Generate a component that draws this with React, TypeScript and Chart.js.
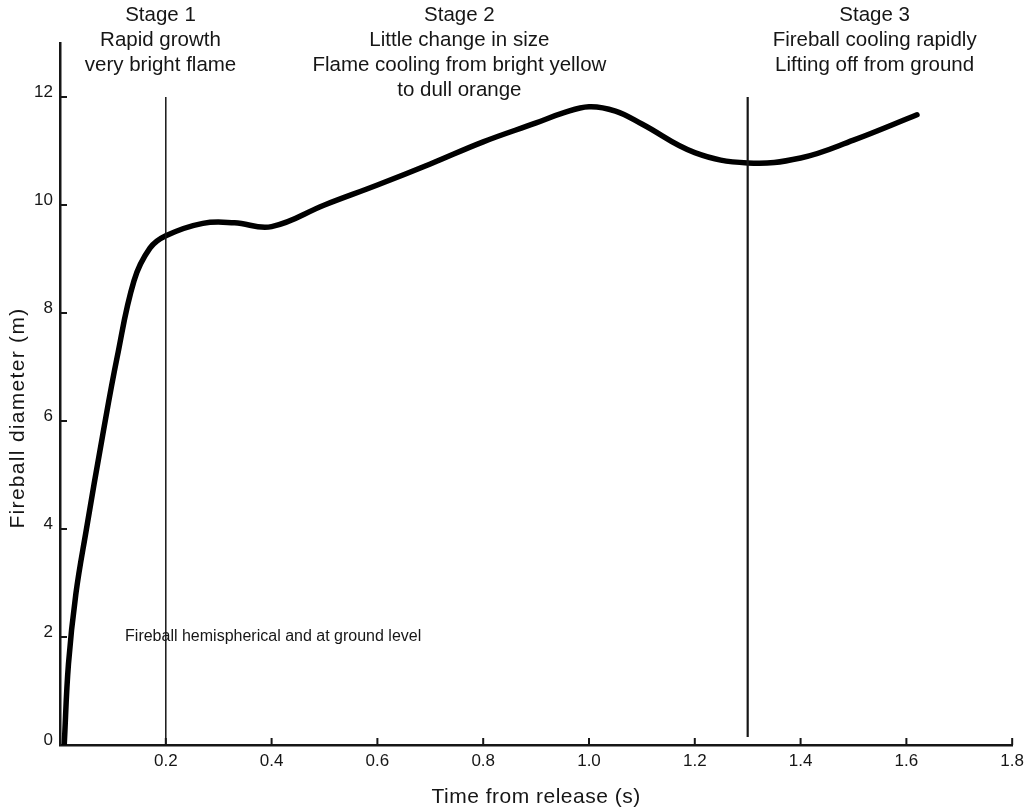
import React, { useEffect, useRef } from "react";
import { Chart, registerables } from "chart.js";

Chart.register(...registerables);

// Data
const timeS = [0.008, 0.016, 0.03, 0.05, 0.08, 0.108, 0.14, 0.17, 0.2, 0.27, 0.33, 0.4, 0.5, 0.6, 0.7, 0.8, 0.9, 0.95, 1.0, 1.05, 1.1, 1.2, 1.3, 1.4, 1.5, 1.62];
const diameterM = [0, 1.5, 2.8, 4.0, 5.7, 7.18, 8.6, 9.2, 9.43, 9.66, 9.67, 9.6, 10.0, 10.37, 10.76, 11.17, 11.52, 11.7, 11.82, 11.74, 11.5, 10.97, 10.78, 10.87, 11.2, 11.67];

const xTicks = [0, 0.2, 0.4, 0.6, 0.8, 1.0, 1.2, 1.4, 1.6, 1.8];
const yTicks = [0, 2, 4, 6, 8, 10, 12];

const stageLineX = [0.2, 1.3];
const stageLineBottom = [0, 0.15];
const stageLineTop = 12;

const stageCenters = [0.19, 0.755, 1.54];
const stageTexts = [
  ["Stage 1", "Rapid growth", "very bright flame"],
  ["Stage 2", "Little change in size", "Flame cooling from bright yellow", "to dull orange"],
  ["Stage 3", "Fireball cooling rapidly", "Lifting off from ground"],
];
const groundNote = "Fireball hemispherical and at ground level";
const groundNoteX = 0.123;
const groundNoteY = 2;

const xTitle = "Time from release (s)";
const yTitle = "Fireball diameter (m)";

const FONT = "'Liberation Sans', Arial, sans-serif";
const INK = "#161616";

const overlayPlugin = {
  id: "overlay",
  afterDatasetsDraw(chart: any) {
    const { ctx, scales } = chart;
    const xs = scales.x;
    const ys = scales.y;
    ctx.save();
    // inward ticks
    ctx.strokeStyle = INK;
    ctx.lineWidth = 2;
    yTicks.forEach((v) => {
      if (v === 0) return;
      const py = ys.getPixelForValue(v);
      ctx.beginPath();
      ctx.moveTo(xs.left, py);
      ctx.lineTo(xs.left + 7, py);
      ctx.stroke();
    });
    xTicks.forEach((v) => {
      if (v === 0) return;
      const px = xs.getPixelForValue(v);
      ctx.beginPath();
      ctx.moveTo(px, ys.bottom);
      ctx.lineTo(px, ys.bottom - 7);
      ctx.stroke();
    });
    // stage divider lines
    stageLineX.forEach((v, i) => {
      const px = xs.getPixelForValue(v);
      ctx.lineWidth = i === 0 ? 1.5 : 2.2;
      ctx.beginPath();
      ctx.moveTo(px, ys.getPixelForValue(stageLineTop));
      ctx.lineTo(px, ys.getPixelForValue(stageLineBottom[i]));
      ctx.stroke();
    });
    // stage texts
    ctx.fillStyle = INK;
    ctx.textAlign = "center";
    ctx.textBaseline = "middle";
    ctx.font = `20.5px ${FONT}`;
    stageTexts.forEach((lines, i) => {
      const cx = xs.getPixelForValue(stageCenters[i]);
      lines.forEach((t, j) => {
        ctx.fillText(t, cx, 15.5 + j * 25);
      });
    });
    // ground note
    ctx.font = `16px ${FONT}`;
    ctx.textAlign = "left";
    ctx.fillText(groundNote, xs.getPixelForValue(groundNoteX), ys.getPixelForValue(groundNoteY));
    // axis titles
    ctx.font = `21px ${FONT}`;
    ctx.textAlign = "center";
    (ctx as any).letterSpacing = "0.5px";
    ctx.fillText(xTitle, (xs.left + xs.right) / 2, 797);
    (ctx as any).letterSpacing = "1.3px";
    ctx.translate(18, 418);
    ctx.rotate(-Math.PI / 2);
    ctx.fillText(yTitle, 0, 0);
    ctx.restore();
  },
};

export default function App() {
  const ref = useRef<HTMLCanvasElement | null>(null);
  useEffect(() => {
    if (!ref.current) return;
    const chart = new Chart(ref.current, {
      type: "line",
      data: {
        datasets: [
          {
            data: timeS.map((t, i) => ({ x: t, y: diameterM[i] })),
            borderColor: "#000",
            borderWidth: 5.5,
            pointRadius: 0,
            tension: 0.4,
            fill: false,
            borderCapStyle: "round",
            borderJoinStyle: "round",
          },
        ],
      },
      options: {
        animation: false,
        responsive: true,
        maintainAspectRatio: false,
        devicePixelRatio: 1,
        layout: { padding: { top: 43, right: 17, left: 0, bottom: 0 } },
        plugins: { legend: { display: false }, tooltip: { enabled: false } },
        scales: {
          x: {
            type: "linear",
            min: 0,
            max: 1.8,
            afterBuildTicks: (s: any) => {
              s.ticks = xTicks.map((v) => ({ value: v }));
            },
            afterFit: (s: any) => {
              s.height = 64;
            },
            grid: { display: false, drawTicks: false },
            border: { display: true, color: INK, width: 2.5 },
            ticks: {
              padding: 6,
              color: INK,
              font: { family: FONT, size: 17 },
              maxRotation: 0,
              autoSkip: false,
              callback: (v: any) => (v === 0 ? "" : Number(v).toFixed(1)),
            },
          },
          y: {
            type: "linear",
            min: 0,
            max: 13,
            afterBuildTicks: (s: any) => {
              s.ticks = yTicks.map((v) => ({ value: v }));
            },
            afterFit: (s: any) => {
              s.width = 60;
            },
            grid: { display: false, drawTicks: false },
            border: { display: true, color: INK, width: 2.5 },
            ticks: {
              padding: 7,
              labelOffset: -5,
              color: INK,
              font: { family: FONT, size: 17 },
              autoSkip: false,
              callback: (v: any) => String(v),
            },
          },
        },
      },
      plugins: [overlayPlugin],
    } as any);
    return () => chart.destroy();
  }, []);
  return (
    <div style={{ position: "fixed", left: 0, top: 0, width: 1030, height: 809, background: "#fff" }}>
      <canvas ref={ref} />
    </div>
  );
}
